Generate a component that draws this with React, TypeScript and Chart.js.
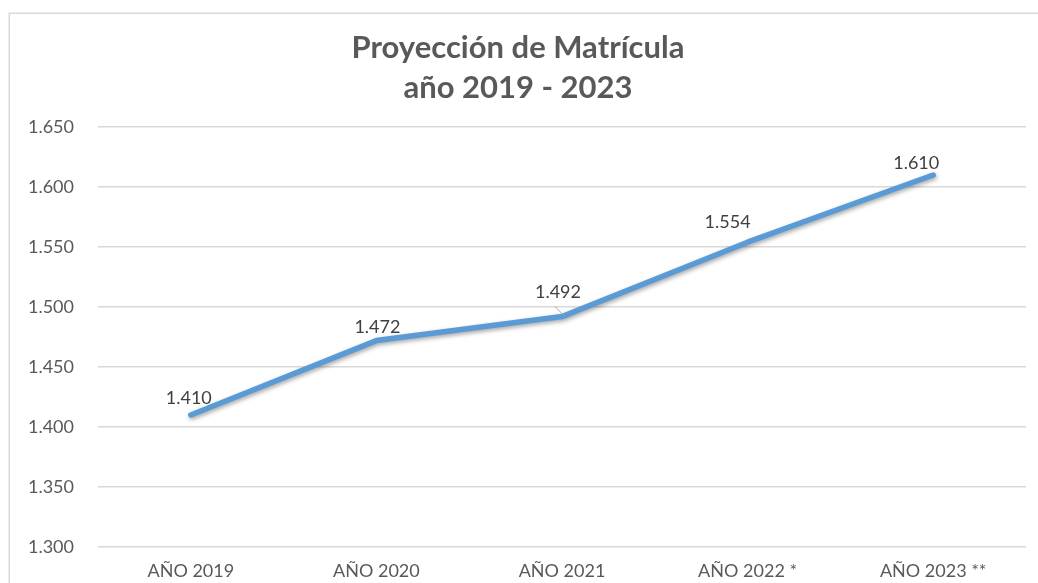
import React, { useEffect, useRef } from "react";
import { Chart, registerables } from "chart.js";

Chart.register(...registerables);

const categories = ["AÑO 2019", "AÑO 2020", "AÑO 2021", "AÑO 2022 *", "AÑO 2023 **"];
const matricula = [1410, 1472, 1492, 1554, 1610];
const titleLines = ["Proyección de Matrícula", "año 2019 - 2023"];
const yMin = 1300;
const yMax = 1650;
const yStep = 50;

// label nudges relative to each point (style only)
const labelNudges = [
  [-2, -17],
  [1, -13],
  [-4, -24],
  [-20, -20],
  [-17, -12],
];

const FONT = "Lato, 'Open Sans', sans-serif";

const fmt = (v: number) => {
  const s = Math.round(v).toString();
  return s.replace(/\B(?=(\d{3})+(?!\d))/g, ".");
};

const framePlugin = {
  id: "frame",
  beforeDraw(chart: any) {
    const ctx = chart.ctx;
    ctx.save();
    ctx.fillStyle = "#ffffff";
    ctx.fillRect(0, 0, chart.width, chart.height);
    ctx.strokeStyle = "#d9d9d9";
    ctx.lineWidth = 1.5;
    ctx.strokeRect(9.25, 13.25, chart.width + 20, chart.height + 20);
    ctx.restore();
  },
};

const shadowPlugin = {
  id: "lineShadow",
  beforeDatasetDraw(chart: any) {
    const ctx = chart.ctx;
    ctx.save();
    ctx.shadowColor = "rgba(0,0,0,0.35)";
    ctx.shadowBlur = 4;
    ctx.shadowOffsetX = 1;
    ctx.shadowOffsetY = 2;
  },
  afterDatasetDraw(chart: any) {
    chart.ctx.restore();
  },
};

const labelPlugin = {
  id: "pointLabels",
  afterDatasetsDraw(chart: any) {
    const ctx = chart.ctx;
    const meta = chart.getDatasetMeta(0);
    const data = chart.data.datasets[0].data as number[];
    ctx.save();
    ctx.font = `18px ${FONT}`;
    ctx.fillStyle = "#404040";
    ctx.textAlign = "center";
    ctx.textBaseline = "middle";
    meta.data.forEach((pt: any, i: number) => {
      const [dx, dy] = labelNudges[i] || [0, -16];
      const lx = pt.x + dx;
      const ly = pt.y + dy;
      if (i === 2) {
        ctx.strokeStyle = "#a6a6a6";
        ctx.lineWidth = 1;
        ctx.beginPath();
        ctx.moveTo(lx - 3, ly + 14);
        ctx.lineTo(pt.x + 2, pt.y - 1);
        ctx.stroke();
      }
      ctx.fillText(fmt(data[i]), lx, ly);
    });
    ctx.restore();
  },
};

export default function App() {
  const ref = useRef<HTMLCanvasElement | null>(null);

  useEffect(() => {
    if (!ref.current) return;
    const chart = new Chart(ref.current, {
      type: "line",
      data: {
        labels: categories,
        datasets: [
          {
            data: matricula,
            borderColor: "#5b9bd5",
            backgroundColor: "#5b9bd5",
            borderWidth: 5.5,
            borderCapStyle: "round",
            borderJoinStyle: "round",
            pointRadius: 0,
            tension: 0,
          },
        ],
      },
      options: {
        responsive: false,
        animation: false,
        layout: { padding: { left: 10, right: 12, top: 0, bottom: 0 } },
        plugins: {
          legend: { display: false },
          tooltip: { enabled: false },
          title: {
            display: true,
            text: titleLines,
            color: "#595959",
            font: { family: FONT, size: 31, weight: "bold", lineHeight: 40 / 31 },
            padding: { top: 28, bottom: 19 },
          },
        },
        scales: {
          x: {
            offset: true,
            grid: { display: false, drawTicks: false },
            border: { display: false },
            ticks: {
              color: "#595959",
              font: { family: FONT, size: 18 },
              padding: 13,
              maxRotation: 0,
            },
            afterFit: (scale: any) => {
              scale.height = 36;
            },
          },
          y: {
            min: yMin,
            max: yMax,
            grid: { color: "#d9d9d9", lineWidth: 1.5, drawTicks: false },
            border: { display: false },
            ticks: {
              stepSize: yStep,
              color: "#595959",
              font: { family: FONT, size: 18 },
              padding: 24,
              callback: (v: any) => fmt(Number(v)),
            },
            afterFit: (scale: any) => {
              scale.width = 88;
            },
          },
        },
      },
      plugins: [framePlugin, shadowPlugin, labelPlugin],
    });
    return () => chart.destroy();
  }, []);

  return (
    <div style={{ position: "fixed", left: 0, top: 0, width: 1038, height: 583, background: "#fff" }}>
      <canvas ref={ref} width={1038} height={583} style={{ display: "block" }} />
    </div>
  );
}
